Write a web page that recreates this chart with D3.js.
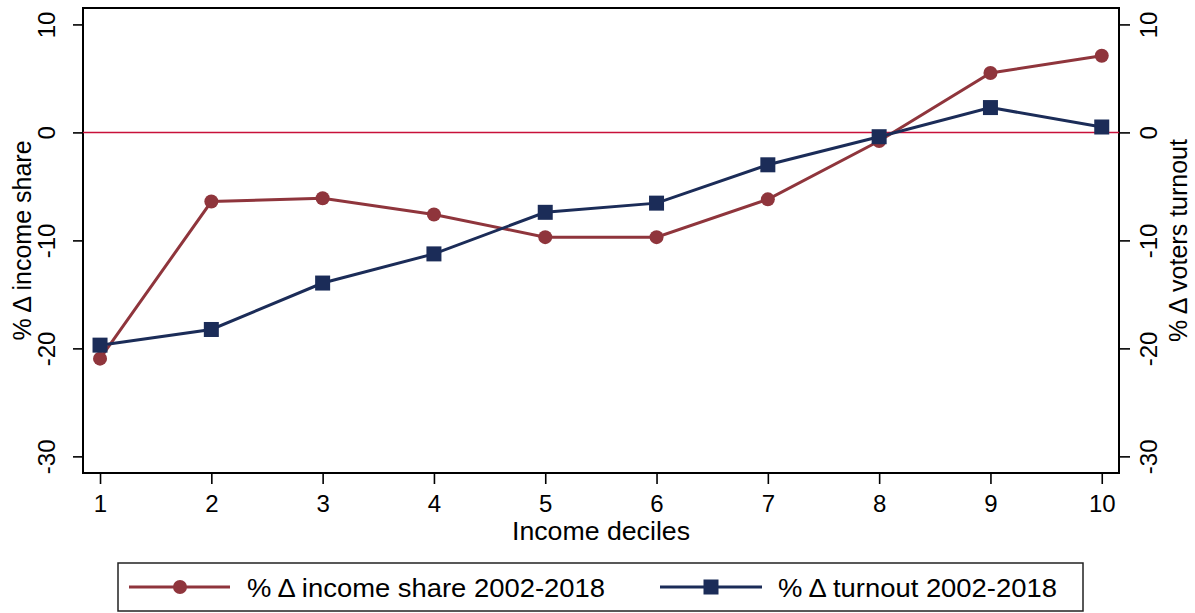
<!DOCTYPE html>
<html>
<head>
<meta charset="utf-8">
<script src="https://cdn.jsdelivr.net/npm/d3@7"></script>
<style>
  body { margin: 0; background: #fff; }
  svg { display: block; font-family: "Liberation Sans", Arial, Helvetica, sans-serif; }
</style>
</head>
<body>
<svg id="chart" width="1195" height="613"></svg>
<script>
// data
const deciles = [1, 2, 3, 4, 5, 6, 7, 8, 9, 10];
const incomeShare = [-20.95, -6.4, -6.1, -7.6, -9.7, -9.7, -6.2, -0.8, 5.5, 7.1];
const turnout = [-19.7, -18.25, -13.95, -11.25, -7.4, -6.55, -3.0, -0.4, 2.3, 0.5];
const yTicks = [10, 0, -10, -20, -30];
const seriesNames = ["% Δ income share 2002-2018", "% Δ turnout 2002-2018"];

const red = "#8f353c";
const navy = "#1b2c58";

const svg = d3.select("#chart");
const plotL = 83, plotR = 1119, plotT = 8, plotB = 473;

const x = d3.scaleLinear().domain([0.847, 10.155]).range([plotL, plotR]);
const y = d3.scaleLinear().domain([-31.54, 11.52]).range([plotB, plotT]);
const yR = y.copy();

// plain hyphen minus like the original
const fmt = d => String(d);

// frame
svg.append("rect")
  .attr("x", plotL).attr("y", plotT)
  .attr("width", plotR - plotL).attr("height", plotB - plotT)
  .attr("fill", "none").attr("stroke", "#000").attr("stroke-width", 2);

// zero reference line
svg.append("line")
  .attr("x1", plotL).attr("x2", plotR)
  .attr("y1", y(0)).attr("y2", y(0))
  .attr("stroke", "#c8103a").attr("stroke-width", 1.5);

// axes
const yAxisL = svg.append("g")
  .attr("transform", `translate(${plotL},0)`)
  .call(d3.axisLeft(y).tickValues(yTicks).tickFormat(fmt).tickSize(10).tickSizeOuter(0));
yAxisL.selectAll("text")
  .attr("x", null).attr("dy", null)
  .attr("transform", "translate(-28,0) rotate(-90)")
  .attr("text-anchor", "middle");

const yAxisR = svg.append("g")
  .attr("transform", `translate(${plotR},0)`)
  .call(d3.axisRight(yR).tickValues(yTicks).tickFormat(fmt).tickSize(11).tickSizeOuter(0));
yAxisR.selectAll("text")
  .attr("x", null).attr("dy", null)
  .attr("transform", "translate(38,0) rotate(-90)")
  .attr("text-anchor", "middle");

const xAxis = svg.append("g")
  .attr("transform", `translate(0,${plotB})`)
  .call(d3.axisBottom(x).tickValues(deciles).tickFormat(fmt).tickSize(11).tickSizeOuter(0));
xAxis.selectAll("text").attr("y", 39).attr("dy", null);

svg.selectAll(".domain").remove();
svg.selectAll(".tick line").attr("stroke", "#000").attr("stroke-width", 1.6);
svg.selectAll(".tick text").attr("fill", "#000").style("font-size", "24px").style("font-family", "inherit");

// titles
svg.append("text")
  .attr("transform", `translate(31,${(plotT + plotB) / 2}) rotate(-90)`)
  .attr("text-anchor", "middle")
  .style("font-size", "25px")
  .text("% Δ income share");

svg.append("text")
  .attr("transform", `translate(1187,${(plotT + plotB) / 2}) rotate(-90)`)
  .attr("text-anchor", "middle")
  .style("font-size", "25px")
  .text("% Δ voters turnout");

svg.append("text")
  .attr("x", (plotL + plotR) / 2).attr("y", 540)
  .attr("text-anchor", "middle")
  .attr("textLength", 178).attr("lengthAdjust", "spacingAndGlyphs")
  .style("font-size", "25px")
  .text("Income deciles");

// series
const line = d3.line().x((d, i) => x(deciles[i])).y(d => y(d));

svg.append("path")
  .datum(incomeShare)
  .attr("d", line)
  .attr("fill", "none").attr("stroke", red).attr("stroke-width", 3);
svg.selectAll(".dot")
  .data(incomeShare).enter()
  .append("circle")
  .attr("cx", (d, i) => x(deciles[i])).attr("cy", d => y(d))
  .attr("r", 7).attr("fill", red);

svg.append("path")
  .datum(turnout)
  .attr("d", line)
  .attr("fill", "none").attr("stroke", navy).attr("stroke-width", 3);
svg.selectAll(".sq")
  .data(turnout).enter()
  .append("rect")
  .attr("x", (d, i) => x(deciles[i]) - 7.5).attr("y", d => y(d) - 7.5)
  .attr("width", 15).attr("height", 15).attr("fill", navy);

// legend
const lg = svg.append("g");
lg.append("rect")
  .attr("x", 118).attr("y", 563).attr("width", 965).attr("height", 48)
  .attr("fill", "#fff").attr("stroke", "#222").attr("stroke-width", 1.5);

const ly = 587;
lg.append("line").attr("x1", 129).attr("x2", 230).attr("y1", ly).attr("y2", ly)
  .attr("stroke", red).attr("stroke-width", 3);
lg.append("circle").attr("cx", 180).attr("cy", ly).attr("r", 7).attr("fill", red);
lg.append("text").attr("x", 247).attr("y", ly + 10)
  .attr("textLength", 358).attr("lengthAdjust", "spacingAndGlyphs")
  .style("font-size", "26px").text(seriesNames[0]);

lg.append("line").attr("x1", 660).attr("x2", 762).attr("y1", ly).attr("y2", ly)
  .attr("stroke", navy).attr("stroke-width", 3);
lg.append("rect").attr("x", 711 - 7.5).attr("y", ly - 7.5).attr("width", 15).attr("height", 15).attr("fill", navy);
lg.append("text").attr("x", 778).attr("y", ly + 10)
  .attr("textLength", 279).attr("lengthAdjust", "spacingAndGlyphs")
  .style("font-size", "26px").text(seriesNames[1]);
</script>
</body>
</html>
